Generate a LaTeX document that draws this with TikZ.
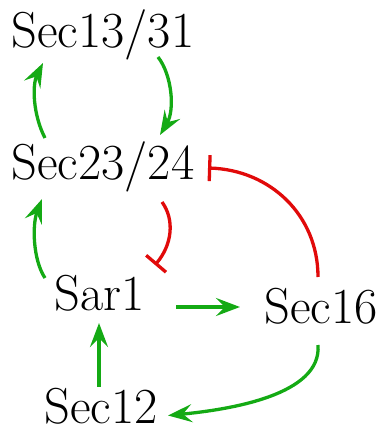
\documentclass[tikz,border=0pt]{standalone}
\usetikzlibrary{arrows.meta,calc}
\definecolor{actgreen}{RGB}{20,170,20}
\definecolor{inhred}{RGB}{225,10,10}
\tikzset{
  lbl/.style={anchor=base,inner sep=0pt,font=\fontsize{50.5}{60}\selectfont},
  act/.style={draw=actgreen,line width=3.3pt,-{Stealth[length=24pt,width=18pt,inset=9pt]}},
  inh/.style={draw=inhred,line width=3.3pt,-{Bar[width=26pt]}}
}
\begin{document}
\begin{tikzpicture}[x=1pt,y=-1pt]
\useasboundingbox (0,0) rectangle (381,427);
\node[lbl] (n1) at (103,48) {Sec13/31};
\node[lbl] (n2) at (103,180) {Sec23/24};
\node[lbl] (n3) at (99.5,310) {Sar1};
\node[lbl] (n4) at (321,323) {Sec16};
\node[lbl] (n5) at (101,423.5) {Sec12};
\draw[act] ($(n2.base)+(-58,-42)$) .. controls +(-12,-23) and +(-11,22) .. ($(n1.base)+(-60,15)$);
\draw[act] ($(n1.base)+(55,9)$) .. controls +(14,18) and +(15,-25) .. ($(n2.base)+(57,-45)$);
\draw[act] ($(n3.base)+(-54.5,-32)$) .. controls +(-12,-18) and +(-10,26) .. ($(n2.base)+(-61,19)$);
\draw[inh] ($(n2.base)+(59,22)$) .. controls +(13,18) and +(17,-20) .. ($(n3.base)+(55.5,-45)$);
\draw[inh] ($(n4.base)+(-3,-46)$) .. controls +(0,-62) and +(62,2) .. ($(n2.base)+(105,-12)$);
\draw[act] ($(n3.base)+(76.5,-3)$) -- ($(n4.base)+(-81,-16)$);
\draw[act] ($(n5.base)+(-2,-37)$) -- ($(n3.base)+(-0.5,13)$);
\draw[act] ($(n4.base)+(-3,22)$) .. controls +(4,50) and +(62,-6) .. ($(n5.base)+(67,-8)$);
\end{tikzpicture}
\end{document}
